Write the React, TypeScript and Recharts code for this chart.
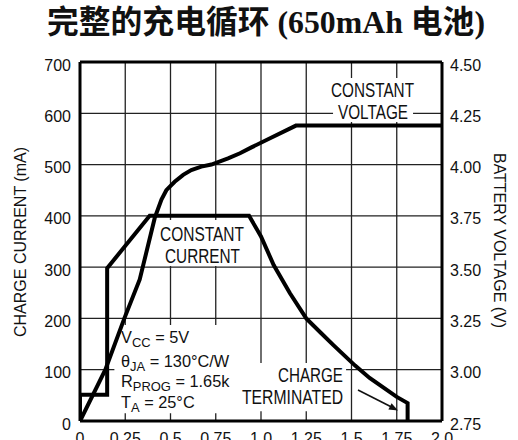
import { LineChart, Line, XAxis, YAxis, CartesianGrid, ReferenceArea, ReferenceLine } from 'recharts';

// time axis (hours)
const xTicks = [0, 0.25, 0.5, 0.75, 1, 1.25, 1.5, 1.75, 2];
const xTickLabels = ['0', '0.25', '0.5', '0.75', '1.0', '1.25', '1.5', '1.75', '2.0'];

// left axis: charge current (mA)
const mATicks = [0, 100, 200, 300, 400, 500, 600, 700];

// right axis: battery voltage (V)
const vTicks = [2.75, 3, 3.25, 3.5, 3.75, 4, 4.25, 4.5];
const vTickLabels = ['2.75', '3.00', '3.25', '3.50', '3.75', '4.00', '4.25', '4.50'];

// charge current curve
const currentTime = [0, 0, 0.15, 0.15, 0.385, 0.934, 1.0, 1.07, 1.16, 1.25, 1.33, 1.4, 1.52, 1.6, 1.75, 1.81, 1.81];
const currentMA = [0, 51, 51, 298, 400, 400, 360, 304, 249, 200, 172, 148, 108, 84, 47, 35, 0];

// battery voltage curve
const voltageTime = [0, 0.14, 0.245, 0.33, 0.413, 0.45, 0.477, 0.523, 0.57, 0.615, 0.67, 0.726, 0.818, 0.884, 0.95, 1.05, 1.193, 2.0];
const voltageV = [2.75, 3.0, 3.25, 3.44, 3.74, 3.83, 3.875, 3.916, 3.95, 3.973, 3.99, 4.0, 4.03, 4.055, 4.085, 4.128, 4.19, 4.19];

const currentData = currentTime.map((t, i) => ({ t, mA: currentMA[i] }));
const voltageData = voltageTime.map((t, i) => ({ t, v: voltageV[i] }));

const SANS = "'Liberation Sans', Arial, sans-serif";

const XTick = ({ x, y, payload }: any) => (
    <text x={x} y={y + 23} textAnchor="middle" fontSize={16} fontFamily={SANS} fill="#111">
        {xTickLabels[xTicks.indexOf(payload.value)]}
    </text>
);

const LeftTick = ({ x, y, payload }: any) => (
    <text x={x} y={y + 8.5} textAnchor="end" fontSize={16} fontFamily={SANS} fill="#111">
        {payload.value}
    </text>
);

const RightTick = ({ x, y, payload }: any) => (
    <text x={x} y={y + 8.5} textAnchor="start" fontSize={16} fontFamily={SANS} fill="#111">
        {vTickLabels[vTicks.indexOf(payload.value)]}
    </text>
);

// condition line with a subscript
const SubLine = ({ x, y, main, sub, rest }: any) => (
    <g transform={`translate(${x},${y}) scale(0.96,1)`}>
        <text x={0} y={0} fontSize={17} fontFamily={SANS} fill="#111">
            {main}
            <tspan fontSize={13.5} dy={4}>{sub}</tspan>
            <tspan fontSize={17} dy={-4}>{rest}</tspan>
        </text>
    </g>
);

const Note = ({ x, y, len, children }: any) => (
    <text x={x} y={y} fontSize={19.5} fontFamily={SANS} fill="#111" textLength={len} lengthAdjust="spacingAndGlyphs">
        {children}
    </text>
);

const App = () => {
    return (
        <div style={{ position: 'absolute', left: 0, top: 0, width: 518, height: 440, overflow: 'hidden', background: '#fff' }}>
            <svg width={518} height={48} style={{ position: 'absolute', left: 0, top: 0 }}>
                <text x={47} y={33} fontSize={32} fontWeight="bold"
                    fontFamily="'Liberation Serif', 'Noto Sans CJK SC', serif" fill="#111"
                    textLength={438} lengthAdjust="spacingAndGlyphs">
                    完整的充电循环 (650mAh 电池)
                </text>
            </svg>

            <div style={{ position: 'absolute', left: 0, top: 0 }}>
                <LineChart width={518} height={460} margin={{ top: 62, right: 0, bottom: 9, left: 0 }}>
                    <CartesianGrid yAxisId="mA" stroke="#222" strokeWidth={1.3} />
                    <XAxis dataKey="t" type="number" domain={[0, 2]} ticks={xTicks} height={30}
                        tickLine={false} tickSize={0} tickMargin={0} tick={<XTick />}
                        axisLine={{ stroke: '#000', strokeWidth: 3 }} allowDataOverflow />
                    <YAxis yAxisId="mA" orientation="left" type="number" domain={[0, 700]} ticks={mATicks} width={80}
                        tickLine={false} tickSize={0} tickMargin={9} tick={<LeftTick />}
                        axisLine={{ stroke: '#000', strokeWidth: 3 }} />
                    <YAxis yAxisId="V" orientation="right" type="number" domain={[2.75, 4.5]} ticks={vTicks} width={76}
                        tickLine={false} tickSize={0} tickMargin={8} tick={<RightTick />}
                        axisLine={{ stroke: '#000', strokeWidth: 3 }} />
                    <ReferenceLine yAxisId="mA" y={700} stroke="#000" strokeWidth={3} />
                    {/* white patches behind the notes */}
                    <ReferenceArea yAxisId="mA" x1={0.19} x2={0.884} y1={15} y2={187} fill="#fff" fillOpacity={1} stroke="none" />
                    <ReferenceArea yAxisId="mA" x1={0.884} x2={1.47} y1={19} y2={113} fill="#fff" fillOpacity={1} stroke="none" />
                    <ReferenceArea yAxisId="mA" x1={0.414} x2={0.935} y1={302} y2={392} fill="#fff" fillOpacity={1} stroke="none" />
                    <ReferenceArea yAxisId="mA" x1={1.398} x2={1.84} y1={583} y2={669} fill="#fff" fillOpacity={1} stroke="none" />
                    <Line data={currentData} dataKey="mA" yAxisId="mA" type="linear" stroke="#000" strokeWidth={4}
                        dot={false} activeDot={false} isAnimationActive={false} />
                    <Line data={voltageData} dataKey="v" yAxisId="V" type="linear" stroke="#000" strokeWidth={4}
                        dot={false} activeDot={false} isAnimationActive={false} />
                </LineChart>
            </div>

            <svg width={518} height={440} style={{ position: 'absolute', left: 0, top: 0, pointerEvents: 'none' }}>
                <text transform="translate(25.5,242) rotate(-90)" textAnchor="middle" fontSize={16} fontFamily={SANS}
                    fill="#111" textLength={190} lengthAdjust="spacingAndGlyphs">CHARGE CURRENT (mA)</text>
                <text transform="translate(493.5,240.5) rotate(90)" textAnchor="middle" fontSize={16} fontFamily={SANS}
                    fill="#111" textLength={175} lengthAdjust="spacingAndGlyphs">BATTERY VOLTAGE (V)</text>

                <Note x={331} y={97} len={83}>CONSTANT</Note>
                <Note x={338} y={119} len={70}>VOLTAGE</Note>
                <Note x={160} y={240.5} len={84}>CONSTANT</Note>
                <Note x={165} y={263} len={75}>CURRENT</Note>
                <Note x={278} y={382} len={65}>CHARGE</Note>
                <Note x={242} y={404} len={101}>TERMINATED</Note>

                <SubLine x={121} y={343} main="V" sub="CC" rest=" = 5V" />
                <SubLine x={121} y={366.5} main="θ" sub="JA" rest=" = 130°C/W" />
                <SubLine x={121} y={387} main="R" sub="PROG" rest=" = 1.65k" />
                <SubLine x={121} y={408} main="T" sub="A" rest=" = 25°C" />

                <line x1={358} y1={390} x2={391} y2={406.8} stroke="#111" strokeWidth={1.6} />
                <polygon points="398,410.5 388.4,409.5 391.6,403.3" fill="#111" />
            </svg>
        </div>
    );
};

export default App;
